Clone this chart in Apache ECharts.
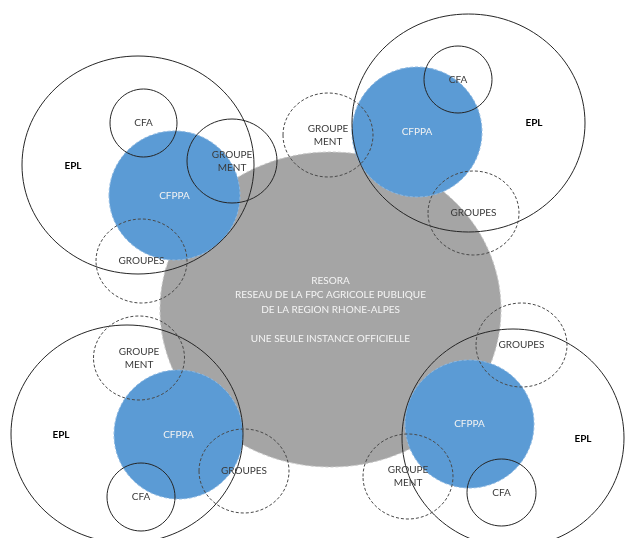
<!DOCTYPE html>
<html>
<head>
<meta charset="utf-8">
<script src="https://cdn.jsdelivr.net/npm/echarts@6/dist/echarts.min.js"></script>
<style>
html,body{margin:0;padding:0;background:#fff;}
#chart{width:625px;height:538px;}
</style>
</head>
<body>
<div id="chart"></div>
<script>
// Each shape: [centerX, centerY, radiusX, radiusY] in diagram units
const resoraNetwork = [[330.5, 309.5, 170.5, 157.5]];
const resoraText = ['RESORA', 'RESEAU DE LA FPC AGRICOLE PUBLIQUE', 'DE LA REGION RHONE-ALPES', '', 'UNE SEULE INSTANCE OFFICIELLE'];
const cfppaCircles = [[174.5, 195.5, 65.5, 64.5], [417, 132, 65, 65], [178.5, 434.5, 64.5, 64.5], [469.5, 424, 64.5, 64]];
const eplCircles = [[138, 165, 116, 109], [468.5, 123, 116.5, 109], [127, 434, 116, 109], [513, 438, 111, 109]];
const eplLabelPoints = [[73, 166], [534, 123], [61, 435], [583, 439]];
const cfaCircles = [[143.5, 123, 33.5, 34], [458, 79.5, 34, 33.5], [141, 497, 34, 34], [501.5, 492.5, 34.5, 33.5]];
const groupementSolid = [[232, 161, 45, 42]];
const groupementDashed = [[328, 135, 45, 42], [139, 358, 45.5, 42], [408, 476.5, 45, 42.5]];
const groupesDashed = [[141.5, 261, 45.5, 42], [473.5, 213, 45.5, 42], [244, 471, 45, 42], [521.5, 345, 45.5, 42]];

const FONT = 'Lato, "Open Sans", sans-serif';

function ellipseSeries(name, data, opts) {
  return {
    type: 'custom',
    name: name,
    coordinateSystem: 'cartesian2d',
    clip: false,
    silent: true,
    z: opts.z,
    data: data,
    encode: { x: 0, y: 1 },
    renderItem: function (params, api) {
      const cx = api.value(0), cy = api.value(1), rx = api.value(2), ry = api.value(3);
      const c = api.coord([cx, cy]);
      const e = api.coord([cx + rx, cy + ry]);
      const children = [{
        type: 'ellipse',
        shape: { cx: c[0], cy: c[1], rx: Math.abs(e[0] - c[0]), ry: Math.abs(e[1] - c[1]) },
        style: opts.shapeStyle
      }];
      if (opts.text) {
        let lp = c;
        if (opts.labelPoints) lp = api.coord(opts.labelPoints[params.dataIndex]);
        children.push({
          type: 'text',
          style: Object.assign({
            text: opts.text,
            x: lp[0], y: lp[1],
            align: 'center', verticalAlign: 'middle',
            fontFamily: FONT
          }, opts.textStyle)
        });
      }
      return { type: 'group', children: children };
    }
  };
}

const chart = echarts.init(document.getElementById('chart'), null, { renderer: 'canvas' });
const darkText = { fill: '#3a3a3a', fontSize: 10, lineHeight: 13 };
const dashedLine = { fill: 'none', stroke: '#4a4a4a', lineWidth: 1, lineDash: [3, 2] };
const solidLine = { fill: 'none', stroke: '#262626', lineWidth: 1 };

chart.setOption({
  backgroundColor: '#ffffff',
  animation: false,
  grid: { left: 0, right: 0, top: 0, bottom: 0 },
  xAxis: { type: 'value', min: 0, max: 625, show: false },
  yAxis: { type: 'value', min: 0, max: 538, inverse: true, show: false },
  series: [
    ellipseSeries('RESORA', resoraNetwork, {
      z: 1,
      shapeStyle: { fill: '#a5a5a5', stroke: '#c8c8c8', lineWidth: 1, lineDash: [3, 2] },
      text: resoraText.join('\n'),
      textStyle: { fill: '#f4f4f4', fontSize: 10, lineHeight: 14.5 }
    }),
    ellipseSeries('CFPPA', cfppaCircles, {
      z: 2,
      shapeStyle: { fill: '#5b9bd5', stroke: '#8cb8e2', lineWidth: 1, lineDash: [3, 2] },
      text: 'CFPPA',
      textStyle: { fill: '#f2f2f2', fontSize: 10 }
    }),
    ellipseSeries('EPL', eplCircles, {
      z: 3,
      shapeStyle: solidLine,
      text: 'EPL',
      labelPoints: eplLabelPoints,
      textStyle: { fill: '#000000', fontSize: 10, fontWeight: 'bold' }
    }),
    ellipseSeries('CFA', cfaCircles, {
      z: 3,
      shapeStyle: solidLine,
      text: 'CFA',
      textStyle: darkText
    }),
    ellipseSeries('GROUPEMENT', groupementSolid, {
      z: 3,
      shapeStyle: solidLine,
      text: 'GROUPE\nMENT',
      textStyle: darkText
    }),
    ellipseSeries('GROUPEMENT pointillé', groupementDashed, {
      z: 3,
      shapeStyle: dashedLine,
      text: 'GROUPE\nMENT',
      textStyle: darkText
    }),
    ellipseSeries('GROUPES', groupesDashed, {
      z: 3,
      shapeStyle: dashedLine,
      text: 'GROUPES',
      textStyle: darkText
    })
  ]
});
</script>
</body>
</html>
